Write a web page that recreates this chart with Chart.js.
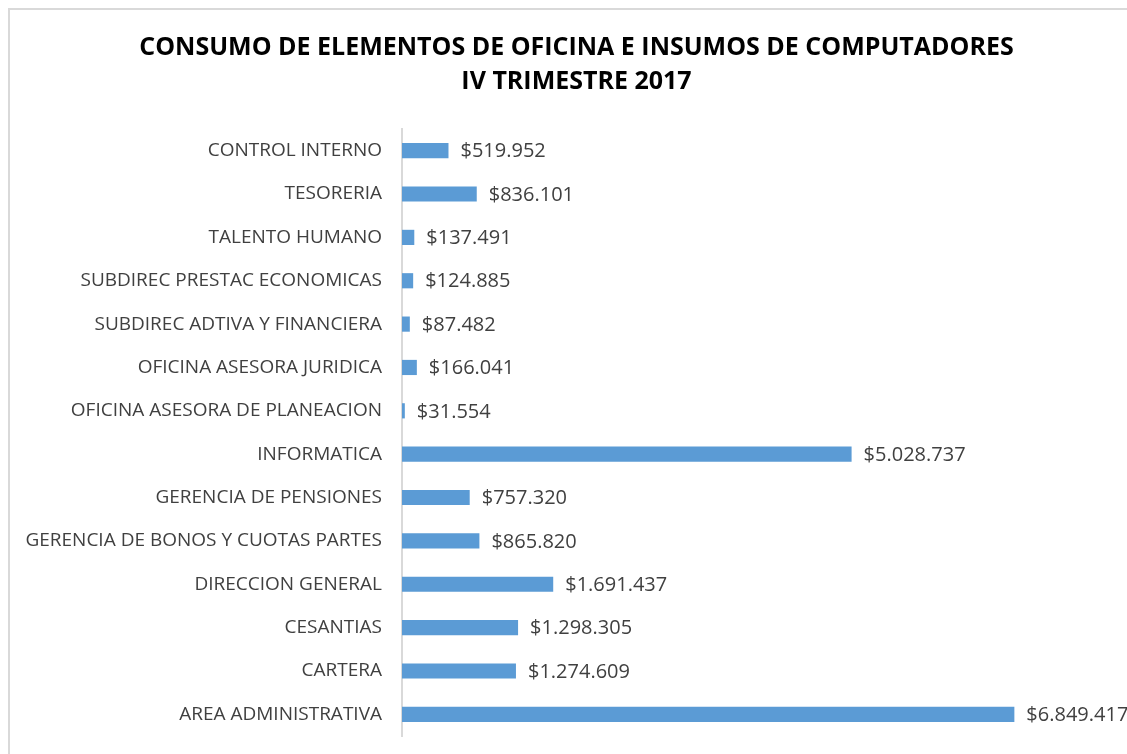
<!DOCTYPE html>
<html>
<head>
<meta charset="utf-8">
<script src="https://cdn.jsdelivr.net/npm/chart.js@4"></script>
<style>
    body { margin: 0; background: #fff; }
    .wrap { position: relative; width: 1127px; height: 754px; overflow: hidden; }
    .frame { position: absolute; left: 8px; top: 8px; width: 1200px; height: 800px; border: 2px solid #d9d9d9; }
    canvas { position: absolute; left: 0; top: 0; }
</style>
</head>
<body>
<div class="wrap">
    <div class="frame"></div>
    <canvas id="consumoChart" width="1153" height="754"></canvas>
</div>
<script>
// Areas, top to bottom as in the picture
const areas = [
    'CONTROL INTERNO',
    'TESORERIA',
    'TALENTO HUMANO',
    'SUBDIREC PRESTAC ECONOMICAS',
    'SUBDIREC ADTIVA Y FINANCIERA',
    'OFICINA ASESORA JURIDICA',
    'OFICINA ASESORA DE PLANEACION',
    'INFORMATICA',
    'GERENCIA DE PENSIONES',
    'GERENCIA DE BONOS Y CUOTAS PARTES',
    'DIRECCION GENERAL',
    'CESANTIAS',
    'CARTERA',
    'AREA ADMINISTRATIVA'
];

const consumo = [
    519952, 836101, 137491, 124885, 87482, 166041, 31554,
    5028737, 757320, 865820, 1691437, 1298305, 1274609, 6849417
];

const titleLines = [
    'CONSUMO DE ELEMENTOS DE OFICINA E INSUMOS DE COMPUTADORES',
    'IV TRIMESTRE 2017'
];

/**
 * Format as $1.234.567
 */
function formatPesos(num) {
    return '$' + String(Math.round(num)).replace(/\B(?=(\d{3})+(?!\d))/g, '.');
}

// Value labels at the end of each bar
const valueLabels = {
    id: 'valueLabels',
    afterDatasetsDraw(chart) {
        const ctx = chart.ctx;
        const meta = chart.getDatasetMeta(0);
        ctx.save();
        ctx.font = '20px "Open Sans"';
        ctx.fillStyle = '#404040';
        ctx.textAlign = 'left';
        ctx.textBaseline = 'middle';
        meta.data.forEach((bar, i) => {
            ctx.fillText(formatPesos(consumo[i]), bar.x + 12, bar.y + 1);
        });
        ctx.restore();
    }
};

document.addEventListener('DOMContentLoaded', function() {
    const ctx = document.getElementById('consumoChart');

    new Chart(ctx, {
        type: 'bar',
        data: {
            labels: areas,
            datasets: [{
                data: consumo,
                backgroundColor: '#5b9bd5',
                borderWidth: 0,
                barPercentage: 0.7,
                categoryPercentage: 0.5
            }]
        },
        options: {
            indexAxis: 'y',
            responsive: false,
            animation: false,
            layout: {
                padding: { left: 0, right: 0, top: 0, bottom: 18 }
            },
            plugins: {
                legend: { display: false },
                tooltip: { enabled: false },
                title: {
                    display: true,
                    text: titleLines,
                    color: '#000',
                    font: { size: 25, weight: 'bold', family: 'Open Sans', lineHeight: 1.36 },
                    padding: { top: 31, bottom: 30 }
                }
            },
            scales: {
                x: {
                    display: false,
                    min: 0,
                    max: 8400000
                },
                y: {
                    grid: {
                        display: true,
                        drawOnChartArea: false,
                        drawTicks: true,
                        tickLength: 18,
                        tickColor: 'rgba(0,0,0,0)'
                    },
                    border: { color: '#d9d9d9', width: 2 },
                    ticks: {
                        color: '#404040',
                        padding: 2,
                        font: { size: 19, family: 'Open Sans' }
                    },
                    afterFit: function(scale) {
                        scale.width = 402;
                    }
                }
            }
        },
        plugins: [valueLabels]
    });
});
</script>
</body>
</html>
